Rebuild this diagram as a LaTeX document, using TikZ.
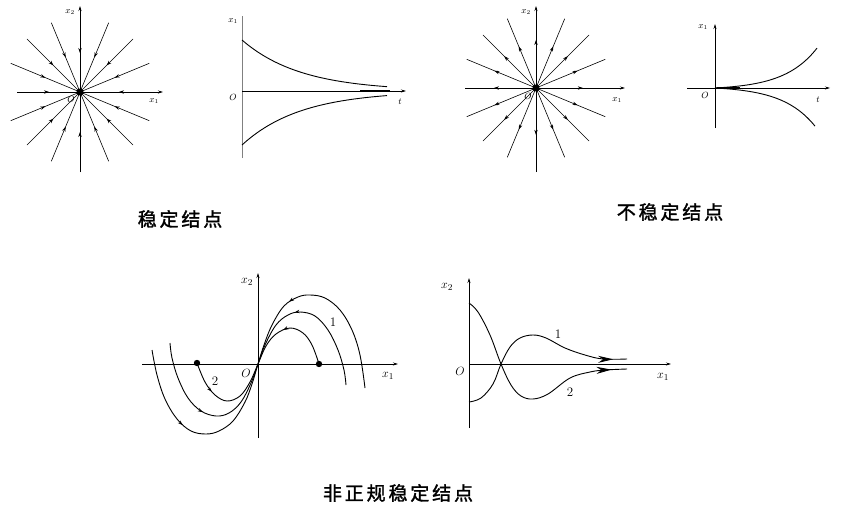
\documentclass[tikz,border=0pt]{standalone}
\usepackage{fontspec}
\newfontfamily\cjk[LetterSpace=15,FakeBold=1.6]{Noto Sans CJK SC}
\usetikzlibrary{arrows.meta,decorations.markings}
\begin{document}
\begin{tikzpicture}[x=1pt,y=-1pt,
  ax/.style={line width=0.7pt,-{Stealth[length=5pt,width=3pt]}},
  axp/.style={line width=0.7pt},
  ray/.style={line width=0.6pt},
  crv/.style={line width=0.9pt},
  midarrow/.style={postaction={decorate,decoration={markings,mark=at position #1 with {\arrow{Stealth[length=5pt,width=3.4pt]}}}}},
  revarrow/.style={postaction={decorate,decoration={markings,mark=at position #1 with {\arrowreversed{Stealth[length=5pt,width=3.4pt]}}}}},
  bigarrow/.style={postaction={decorate,decoration={markings,mark=at position #1 with {\arrow{Stealth[length=15pt,width=7pt]}}}}},
  lab/.style={inner sep=0pt,font=\fontsize{9}{10}\selectfont},
  labb/.style={inner sep=0pt,font=\fontsize{13}{14}\selectfont},
  captext/.style={inner sep=0pt,font=\cjk\fontsize{19}{20}\selectfont}]
\useasboundingbox (0,0) rectangle (858,508);

% ---------- panel 1: stable node ----------
\coordinate (c1) at (80,92);
\draw[ax] (80,172) -- (80,6);
\draw[ax] (17,92) -- (163,92);
\foreach \a in {22.5,45,67.5,112.5,135,157.5,202.5,225,247.5,292.5,315,337.5}
  \draw[ray,midarrow=0.5] (c1) ++(\a:75) -- (c1);
\foreach \a/\r in {0/78,90/80,180/62,270/78}
  \draw[ray,midarrow=0.5] (c1) ++(\a:\r) -- (c1);
\fill (c1) circle (3.5);
\node[lab] (p1x2) at (70,12) {$x_2$};
\node[lab] (p1x1) at (154,101) {$x_1$};
\node[lab] (p1o) at (71,99) {$O$};

% ---------- panel 2: x1(t) stable ----------
\coordinate (o2) at (242,91);
\draw[axp,gray] (242,158) -- (242,16);
\draw[ax] (o2) -- (406,91);
\draw[crv] plot[domain=0:145,samples=70] ({242+\x},{91-51*exp(-0.017*\x)});
\draw[crv] plot[domain=0:145,samples=70] ({242+\x},{91+54*exp(-0.017*\x)});
\draw[line width=2.2pt] (360,91) -- (390,91);
\node[lab] (p2x1) at (233,21) {$x_1$};
\node[lab] (p2o) at (233,97) {$O$};
\node[lab] (p2t) at (400,102) {$t$};

% ---------- panel 3: unstable node ----------
\coordinate (c3) at (536,88);
\draw[ax] (536,172) -- (536,6);
\draw[ax] (465,88) -- (625,88);
\foreach \a in {22.5,45,67.5,112.5,135,157.5,202.5,225,247.5,292.5,315,337.5}
  \draw[ray,midarrow=0.6] (c3) -- ++(\a:75);
\foreach \a/\r in {0/78,90/78,180/70,270/80}
  \draw[ray,midarrow=0.6] (c3) -- ++(\a:\r);
\fill (c3) circle (3.5);
\node[lab] (p3x2) at (526,12) {$x_2$};
\node[lab] (p3x1) at (617,100) {$x_1$};
\node[lab] (p3o) at (528,96) {$O$};

% ---------- panel 4: x1(t) unstable ----------
\coordinate (o4) at (715,88);
\draw[ax] (715,128) -- (715,24);
\draw[ax] (687,88) -- (830,88);
\draw[crv] plot[domain=0:102,samples=70] ({715+\x},{88-1.8*(exp(0.0308*\x)-1)});
\draw[crv] plot[domain=0:100,samples=70] ({715+\x},{88+1.8*(exp(0.0310*\x)-1)});
\draw[line width=2.2pt] (717,88) -- (740,88);
\node[lab] (p4x1) at (703,27) {$x_1$};
\node[lab] (p4o) at (705,95) {$O$};
\node[lab] (p4t) at (818,100) {$t$};

% ---------- panel 5: improper stable node (phase plane) ----------
\coordinate (o5) at (258,364);
\draw[ax] (142,364) -- (398,364);
\draw[ax] (258,438) -- (258,273);
% curve A
\draw[crv,midarrow=0.16,revarrow=0.72] plot[smooth,tension=0.6] coordinates
  {(197,363) (205,382) (215,395) (227,401) (240,396) (250,382) (258,364) (266,346) (276,334) (290,328) (303,333) (312,345) (319,364)};
% curve B
\draw[crv,midarrow=0.24,revarrow=0.7] plot[smooth,tension=0.6] coordinates
  {(170,343) (172,358) (178,378) (188,398) (201,411) (216,416) (229,413) (241,402) (251,383) (258,364) (265,345) (276,325) (288,315) (300,312) (315,316) (328,330) (338,350) (344,370) (346,385)};
% curve C
\draw[crv,midarrow=0.2,revarrow=0.66] plot[smooth,tension=0.6] coordinates
  {(152,350) (157,375) (165,399) (177,419) (191,431) (206,434) (219,431) (233,421) (245,402) (252,384) (258,364) (264,345) (272,325) (284,306) (298,297) (310,295) (325,298) (340,310) (352,330) (360,355) (365,388)};
\fill (197,363) circle (3.2);
\fill (319,364) circle (3.2);
\node[labb] (p5x2) at (247,282) {$x_2$};
\node[labb] (p5x1) at (388,376) {$x_1$};
\node[labb] (p5o) at (246,373) {$O$};
\node[labb] (p5l1) at (333,322) {1};
\node[labb] (p5l2) at (215,381) {2};

% ---------- panel 6: improper stable node, x vs x1 ----------
\coordinate (o6) at (469,364);
\draw[ax] (469,428) -- (469,278);
\draw[ax] (o6) -- (671,364);
\draw[crv,bigarrow=0.93] plot[smooth,tension=0.6] coordinates
  {(469,402) (481,398) (493,384) (501,364) (510,347) (520,338) (533,335) (546,338) (565,348) (585,355) (603,359) (627,359)};
\draw[crv,bigarrow=0.93] plot[smooth,tension=0.6] coordinates
  {(469,303) (478,312) (490,335) (501,364) (511,385) (521,396) (533,399) (548,394) (570,378) (590,372) (605,370) (627,369)};
\node[labb] (p6x2) at (447,287) {$x_2$};
\node[labb] (p6x1) at (663,377) {$x_1$};
\node[labb] (p6o) at (460,371) {$O$};
\node[labb] (p6l1) at (558,334) {1};
\node[labb] (p6l2) at (570,392) {2};

% ---------- captions ----------
\node[captext] (cap1) at (180,219) {稳定结点};
\node[captext] (cap2) at (670,212) {不稳定结点};
\node[captext] (cap3) at (398,493) {非正规稳定结点};
\end{tikzpicture}
\end{document}
